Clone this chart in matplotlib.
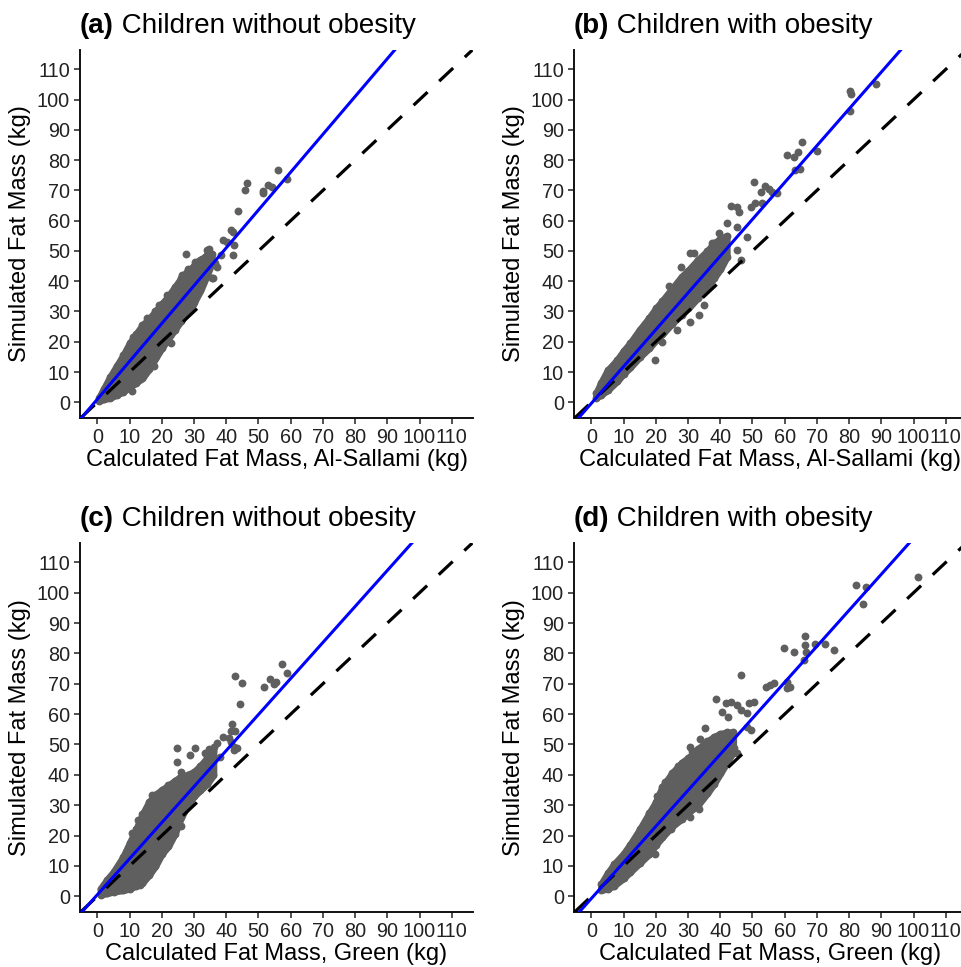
import matplotlib.pyplot as plt

plt.rcParams['font.family'] = ['Liberation Sans', 'DejaVu Sans']

# regression lines (blue): slope, intercept
slopes = [1.25, 1.216, 1.187, 1.187]
intercepts = [1.03, -0.34, 0.52, -0.73]

# dense core of each cloud: x, lower edge, upper edge (kg)
core_a_x = [0.5, 2, 4, 6, 8, 10, 12, 14, 16, 18, 20, 22, 24, 26, 28, 30, 32, 34, 35.5]
core_a_lo = [0.5, 1, 1.5, 2.5, 3.5, 5, 6.5, 8, 11, 14.5, 18, 21, 24, 27, 30, 33, 37, 42, 46]
core_a_hi = [1.5, 4.5, 8.5, 12, 15.5, 19.5, 22.5, 25.5, 27.5, 30, 32.5, 35, 38, 41, 43.5, 45, 47, 48.5, 49]

core_b_x = [1.5, 3, 5, 8, 10, 12, 15, 18, 20, 22, 25, 28, 30, 33, 36, 38, 40, 42]
core_b_lo = [1.5, 2.5, 4, 7, 9.5, 11.5, 15, 18, 20.5, 22.5, 26, 29, 31, 34.5, 38, 41, 44, 48]
core_b_hi = [3, 6.5, 10.5, 14, 17, 19.5, 24, 28, 31, 33.5, 37.5, 41.5, 43.5, 47, 50, 52.5, 54, 55]

core_c_x = [1, 3, 5, 8, 10, 12, 14, 16, 18, 20, 22, 24, 26, 28, 30, 32, 34, 36]
core_c_lo = [0.5, 1, 1.5, 2, 2.5, 3.5, 4.5, 7, 10, 14, 16.5, 20.5, 26, 30, 33, 35, 37, 40]
core_c_hi = [2.5, 5.5, 8, 13, 17.5, 22, 27, 31, 33.5, 35, 36.5, 38, 39.5, 40, 41, 43, 45.5, 48]

core_d_x = [3, 5, 7, 10, 12, 15, 18, 20, 22, 25, 28, 30, 33, 36, 38, 40, 42, 44]
core_d_lo = [2, 2.5, 3.5, 6, 8, 11, 14, 17, 19.5, 23, 25.5, 27.5, 30, 34, 37, 40.5, 44, 47.5]
core_d_hi = [4, 7.5, 10.5, 14, 17, 22, 27.5, 31, 36, 40.5, 44, 45.5, 48.5, 51, 52.5, 53.5, 54, 54]

# individual points outside the dense core
pts_a_x = [56.2, 58.8, 46.5, 45.9, 51.4, 51.4, 53.1, 54.1, 43.5, 41.4, 42.2, 39.1, 40.2, 42.2,
           42.5, 27.5, 30.3, 30.9, 34.0, 34.5, 35.5, 36.0, 29.6, 10.7, 28.2, 26.2, 25.7, 37.0,
           38.5, 32.5, 33.5, 36.5, 11.0, 15.5, 19.0, 21.5, 17.5, 23.0]
pts_a_y = [76.6, 73.8, 72.5, 70.3, 69.8, 69.0, 71.7, 71.2, 63.2, 56.9, 56.3, 53.6, 53.0, 48.6,
           51.9, 48.9, 46.4, 46.2, 50.3, 50.5, 40.9, 41.2, 32.4, 3.8, 44.2, 42.0, 39.3, 44.8,
           48.5, 47.5, 48.0, 46.0, 21.5, 28.0, 32.0, 35.5, 12.0, 19.5]

pts_b_x = [88.2, 80.4, 80.6, 80.2, 65.4, 60.7, 62.8, 64.1, 64.9, 63.3, 70.0, 50.4, 54.0, 55.0,
           56.1, 52.5, 43.2, 45.2, 45.7, 49.4, 50.9, 42.1, 45.2, 48.3, 39.5, 37.4, 30.7, 31.8,
           27.8, 35.9, 36.9, 34.9, 33.3, 30.7, 19.7, 46.3, 45.2, 53.0, 57.5, 24.0, 26.5, 22.0]
pts_b_y = [105.3, 102.8, 102.0, 96.2, 86.0, 81.8, 81.1, 82.7, 77.2, 76.7, 83.0, 72.8, 71.4, 70.6,
           69.5, 69.5, 64.8, 64.6, 62.9, 64.6, 65.7, 59.3, 58.0, 54.7, 55.8, 52.5, 49.4, 49.2,
           44.6, 44.8, 42.6, 32.1, 28.8, 26.6, 14.0, 47.0, 50.3, 66.0, 69.0, 38.5, 24.0, 20.0]

pts_c_x = [57.3, 58.9, 42.8, 44.9, 53.7, 55.3, 51.6, 54.7, 44.4, 41.8, 41.5, 42.8, 40.9, 41.6,
           42.5, 43.4, 42.3, 24.7, 30.4, 28.9, 37.2, 36.1, 34.5, 33.5, 24.7, 25.8, 35.6, 13.3,
           10.8, 29.9, 39.0, 38.0, 17.0, 19.5, 12.5, 26.0]
pts_c_y = [76.6, 73.7, 72.6, 70.4, 71.5, 70.7, 68.9, 70.0, 63.4, 56.7, 54.5, 54.5, 52.0, 50.8,
           49.3, 48.7, 48.2, 48.7, 48.7, 46.5, 50.4, 49.3, 48.4, 47.1, 44.3, 41.0, 41.0, 3.6,
           20.7, 33.9, 52.5, 46.0, 33.5, 30.0, 25.0, 23.0]

pts_d_x = [101.4, 82.0, 85.1, 84.3, 66.2, 59.9, 63.0, 66.4, 66.7, 69.5, 72.6, 75.4, 65.9, 46.3,
           54.3, 56.6, 55.6, 60.7, 60.7, 61.8, 38.8, 41.8, 43.2, 45.2, 40.5, 42.3, 48.8, 50.4,
           46.3, 48.3, 35.4, 33.8, 30.7, 31.2, 19.7, 24.7, 30.7, 33.3, 44.2, 45.2, 48.3, 49.4,
           20.5, 23.0, 27.0]
pts_d_y = [105.2, 102.6, 101.9, 96.3, 85.8, 81.7, 80.6, 82.8, 80.6, 83.2, 83.2, 81.2, 77.9, 72.9,
           69.1, 70.2, 69.6, 70.7, 68.6, 69.0, 64.9, 63.6, 64.1, 63.0, 60.8, 59.2, 63.6, 64.1,
           61.4, 60.3, 55.5, 51.7, 49.3, 48.0, 13.9, 22.0, 26.2, 28.9, 48.7, 47.1, 55.9, 54.8,
           33.0, 37.5, 43.0]

tags = ['(a)', '(b)', '(c)', '(d)']
titles = ['Children without obesity', 'Children with obesity',
          'Children without obesity', 'Children with obesity']
xlabels = ['Calculated Fat Mass, Al-Sallami (kg)', 'Calculated Fat Mass, Al-Sallami (kg)',
           'Calculated Fat Mass, Green (kg)', 'Calculated Fat Mass, Green (kg)']
ticks = list(range(0, 111, 10))

cores = [(core_a_x, core_a_lo, core_a_hi), (core_b_x, core_b_lo, core_b_hi),
         (core_c_x, core_c_lo, core_c_hi), (core_d_x, core_d_lo, core_d_hi)]
points = [(pts_a_x, pts_a_y), (pts_b_x, pts_b_y), (pts_c_x, pts_c_y), (pts_d_x, pts_d_y)]

W, H = 962, 967
fig = plt.figure(figsize=(W / 100, H / 100), dpi=100)

# axes boxes in pixels: left, top, width, height
boxes = [(80, 50, 393, 368), (574, 50, 393, 368), (80, 543, 393, 369), (574, 543, 393, 369)]

col = '#5f5f5f'
for i in range(4):
    l, t, w, h = boxes[i]
    ax = fig.add_axes([l / W, 1 - (t + h) / H, w / W, h / H])

    cx, lo, hi = cores[i]
    ax.fill_between(cx, lo, hi, color=col, linewidth=5, joinstyle='round', zorder=2)
    ax.scatter(cx + cx, lo + hi, s=32, color=col, linewidths=0, zorder=2)
    px, py = points[i]
    ax.scatter(px, py, s=32, color=col, linewidths=0, zorder=2)

    ax.axline((0, 0), slope=1, color='black', lw=2.3, ls=(0, (6, 5)), zorder=3)
    ax.axline((0, intercepts[i]), slope=slopes[i], color='#0000ff', lw=2.2, zorder=4)

    ax.set_xlim(-5.4, 116.6)
    ax.set_ylim(-5.2, 116.4)
    ax.set_xticks(ticks)
    ax.set_yticks(ticks)
    for s in ['top', 'right']:
        ax.spines[s].set_visible(False)
    for s in ['left', 'bottom']:
        ax.spines[s].set_linewidth(1.4)
        ax.spines[s].set_color('#111111')
    ax.tick_params(length=4.3, width=1.2, color='#333333', labelsize=14.3,
                   labelcolor='#222222', pad=3)
    ax.set_xlabel(xlabels[i], fontsize=17, labelpad=1)
    ax.set_ylabel('Simulated Fat Mass (kg)', fontsize=17, labelpad=4)

    tt = ax.set_title(tags[i], loc='left', fontsize=20, fontweight='bold', pad=12)
    ax.annotate(' ' + titles[i], xy=(1, 0), xycoords=tt, va='bottom', ha='left', fontsize=20)

fig.savefig('out.png', dpi=100)
